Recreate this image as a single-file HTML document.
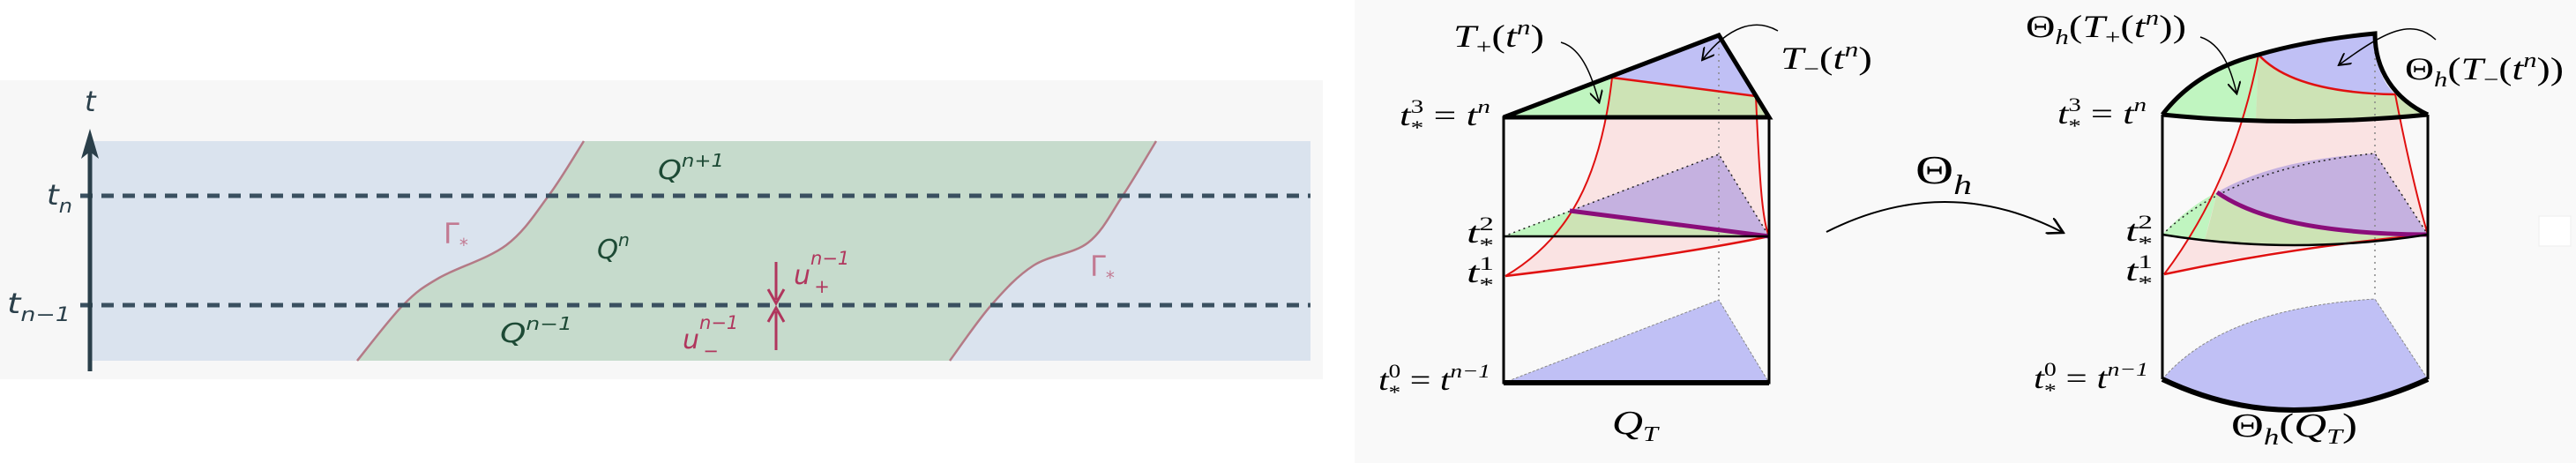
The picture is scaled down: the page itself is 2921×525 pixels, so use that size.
<!DOCTYPE html>
<html><head><meta charset="utf-8"><style>
html,body{margin:0;padding:0;background:#fff}
svg{display:block}
.m{font-family:"Liberation Serif",serif;font-style:italic}
.s{font-family:"DejaVu Sans",sans-serif;font-style:italic}
</style></head><body>
<svg width="2921" height="525" viewBox="0 0 2921 525" xmlns="http://www.w3.org/2000/svg">
<defs>
<marker id="ah" markerWidth="10" markerHeight="10" refX="8" refY="5" orient="auto"><path d="M0,0 L9,5 L0,10" fill="none" stroke="#000" stroke-width="1.3"/></marker>
</defs>
<!-- LEFT PANEL -->
<g>
<rect x="0" y="91" width="1500" height="339" fill="#f7f7f7"/>
<rect x="102" y="160" width="1384" height="249" fill="#dae3ee"/>
<path id="region" d="" fill="#c6dbcc"/>
<path id="gl" d="" fill="none" stroke="#b47a86" stroke-width="2.5"/>
<path id="gr" d="" fill="none" stroke="#b47a86" stroke-width="2.5"/>
<line x1="91" y1="222" x2="1486" y2="222" stroke="#3a5060" stroke-width="5" stroke-dasharray="14,10"/>
<line x1="91" y1="346" x2="1486" y2="346" stroke="#3a5060" stroke-width="5" stroke-dasharray="14,10"/>
<line x1="102" y1="421" x2="102" y2="155" stroke="#2a3f4a" stroke-width="5"/>
<path d="M92,180 L102,146 L112,180 L102,172 Z" fill="#2a3f4a"/>
<text x="96" y="126" class="s" font-size="32" fill="#2a3f4a">t</text>
<text x="53" y="232" class="s" font-size="32" fill="#2a3f4a" textLength="29" lengthAdjust="spacingAndGlyphs">t<tspan font-size="22" dy="9">n</tspan></text>
<text x="8" y="355" class="s" font-size="32" fill="#2a3f4a" textLength="72" lengthAdjust="spacingAndGlyphs">t<tspan font-size="22" dy="9">n−1</tspan></text>
<text x="746" y="203" class="s" font-size="30" fill="#1d4a35" textLength="75" lengthAdjust="spacingAndGlyphs">Q<tspan font-size="20" dy="-14">n+1</tspan></text>
<text x="677" y="293" class="s" font-size="30" fill="#1d4a35" textLength="37" lengthAdjust="spacingAndGlyphs">Q<tspan font-size="20" dy="-14">n</tspan></text>
<text x="567" y="388" class="s" font-size="30" fill="#1d4a35" textLength="82" lengthAdjust="spacingAndGlyphs">Q<tspan font-size="20" dy="-14">n−1</tspan></text>
<text x="503" y="276" font-family="DejaVu Sans" font-size="32" fill="#c27a92">Γ<tspan font-size="20" dy="9">*</tspan></text>
<text x="1236" y="313" font-family="DejaVu Sans" font-size="32" fill="#c27a92">Γ<tspan font-size="20" dy="9">*</tspan></text>
<line x1="880" y1="297" x2="880" y2="340" stroke="#b0365d" stroke-width="3"/>
<path d="M871,328 L880,344 L889,328" fill="none" stroke="#b0365d" stroke-width="3"/>
<line x1="880" y1="397" x2="880" y2="353" stroke="#b0365d" stroke-width="3"/>
<path d="M871,365 L880,349 L889,365" fill="none" stroke="#b0365d" stroke-width="3"/>
<text x="900" y="322" class="s" font-size="30" fill="#b0365d">u<tspan font-size="21" dy="-22">n−1</tspan><tspan font-size="21" dx="-40" dy="32">+</tspan></text>
<text x="774" y="395" class="s" font-size="30" fill="#b0365d">u<tspan font-size="21" dy="-22">n−1</tspan><tspan font-size="21" dx="-40" dy="32">−</tspan></text>
</g>
<!-- RIGHT PANEL -->
<rect x="1536" y="0" width="1385" height="525" fill="#f9f9f9"/>
<g>
<path d="M1828,88 L1991,109 C1995,200 1998,250 2006,268 Q1900,290 1707,313 C1780,270 1815,200 1828,88 Z" fill="#fae3e3"/>
<path d="M1705,133 L1949,40 L2006,133 Z" fill="#c0f5c0"/>
<path d="M1828,88 L1991,109 L2006,133 L1822,133 C1825,115 1826,100 1828,88 Z" fill="#cde3b5"/>
<path d="M1828,88 L1949,40 L1991,109 Z" fill="#c0c0f5"/>
<path d="M1705,268 L1780,239 L2006,268 Z" fill="#c0f5c0"/>
<path d="M1780,239 L2006,268 L1757,268 C1768,258 1775,250 1780,239 Z" fill="#cde3b5"/>
<path d="M1780,239 L1949,175 L2006,268 Z" fill="#c5b1e0"/>
<path d="M1705,268 L1949,175 L2006,268" fill="none" stroke="#222" stroke-width="1.5" stroke-dasharray="2,4"/>
<path d="M1705,434 L1949,340 L2006,434 Z" fill="#c0c0f5" stroke="#888" stroke-width="1" stroke-dasharray="3,2"/>
<line x1="1949" y1="40" x2="1949" y2="340" stroke="#888" stroke-width="1.5" stroke-dasharray="2,5"/>
<path d="M1828,88 C1815,200 1780,270 1707,313" fill="none" stroke="#e01010" stroke-width="2"/>
<path d="M1991,109 C1995,200 1998,250 2006,268" fill="none" stroke="#e01010" stroke-width="2"/>
<path d="M1707,313 Q1900,290 2006,268" fill="none" stroke="#e01010" stroke-width="2.5"/>
<line x1="1828" y1="88" x2="1991" y2="109" stroke="#e01010" stroke-width="2.5"/>
<line x1="1780" y1="239" x2="2006" y2="268" stroke="#8a0d7a" stroke-width="5"/>
<line x1="1705" y1="268" x2="2006" y2="268" stroke="#000" stroke-width="2.5"/>
<rect x="1705" y="133" width="301" height="301" fill="none" stroke="#000" stroke-width="3"/>
<path d="M1705,133 L1949,40 L2006,133 Z" fill="none" stroke="#000" stroke-width="5"/>
<line x1="1705" y1="434" x2="2006" y2="434" stroke="#000" stroke-width="6"/>
<path d="M1770,48 C1795,55 1806,90 1813,115" fill="none" stroke="#000" stroke-width="1.5" marker-end="url(#ah)"/>
<path d="M2016,35 C1990,20 1960,30 1931,67" fill="none" stroke="#000" stroke-width="1.5" marker-end="url(#ah)"/>
<text x="1648" y="53" class="m" font-size="36" textLength="103" lengthAdjust="spacingAndGlyphs">T<tspan font-size="24" dy="8" font-style="normal">+</tspan><tspan dy="-8" font-style="normal">(</tspan>t<tspan font-size="24" dy="-14">n</tspan><tspan dy="14" font-style="normal">)</tspan></text>
<text x="2019" y="78" class="m" font-size="36" textLength="104" lengthAdjust="spacingAndGlyphs">T<tspan font-size="24" dy="8" font-style="normal">−</tspan><tspan dy="-8" font-style="normal">(</tspan>t<tspan font-size="24" dy="-14">n</tspan><tspan dy="14" font-style="normal">)</tspan></text>
<text x="1587" y="142" class="m" font-size="34" textLength="103" lengthAdjust="spacingAndGlyphs">t<tspan font-size="22" dy="-14" font-style="normal">3</tspan><tspan font-size="22" dx="-11" dy="24" font-style="normal">*</tspan><tspan font-style="normal" dy="-10"> = </tspan>t<tspan font-size="22" dy="-14">n</tspan></text>
<text x="1663" y="275" class="m" font-size="34" textLength="31" lengthAdjust="spacingAndGlyphs">t<tspan font-size="22" dy="-14" font-style="normal">2</tspan><tspan font-size="22" dx="-11" dy="24" font-style="normal">*</tspan></text>
<text x="1663" y="320" class="m" font-size="34" textLength="31" lengthAdjust="spacingAndGlyphs">t<tspan font-size="22" dy="-14" font-style="normal">1</tspan><tspan font-size="22" dx="-11" dy="24" font-style="normal">*</tspan></text>
<text x="1563" y="442" class="m" font-size="34" textLength="127" lengthAdjust="spacingAndGlyphs">t<tspan font-size="22" dy="-14" font-style="normal">0</tspan><tspan font-size="22" dx="-11" dy="24" font-style="normal">*</tspan><tspan font-style="normal" dy="-10"> = </tspan>t<tspan font-size="22" dy="-14">n−1</tspan></text>
<text x="1828" y="492" class="m" font-size="38" textLength="52" lengthAdjust="spacingAndGlyphs">Q<tspan font-size="24" dy="8">T</tspan></text>
</g>
<g>
<path d="M2071,263 Q2206,195 2338,263" fill="none" stroke="#000" stroke-width="2" marker-end="url(#ah)"/>
<text x="2172" y="208" class="m" font-size="46" textLength="64" lengthAdjust="spacingAndGlyphs"><tspan font-style="normal">Θ</tspan><tspan font-size="32" dy="12">h</tspan></text>
</g>
<g>
<path d="M2561,62 Q2600,105 2716,107 C2730,180 2745,240 2753,266 Q2600,275 2454,311 C2500,250 2540,170 2561,62 Z" fill="#fae3e3"/>
<path d="M2452,130 Q2490,80 2561,62 L2558,135 Q2500,134 2452,130 Z" fill="#c0f5c0"/>
<path d="M2561,62 Q2600,105 2716,107 C2730,118 2745,125 2753,130 Q2650,140 2558,135 Z" fill="#cde3b5"/>
<path d="M2561,62 Q2620,45 2693,38 C2693,70 2700,92 2716,107 Q2600,105 2561,62 Z" fill="#c0c0f5"/>
<path d="M2452,266 Q2480,235 2514,218 L2500,272 Q2470,270 2452,266 Z" fill="#c0f5c0"/>
<path d="M2514,218 Q2580,265 2753,266 Q2600,285 2500,272 C2505,255 2510,235 2514,218 Z" fill="#cde3b5"/>
<path d="M2514,218 Q2580,180 2693,174 L2753,266 Q2580,265 2514,218 Z" fill="#c5b1e0"/>
<path d="M2452,266 Q2530,190 2693,174 L2753,266" fill="none" stroke="#222" stroke-width="1.5" stroke-dasharray="2,4"/>
<path d="M2452,430 Q2520,350 2693,339 L2753,430 Q2600,500 2452,430 Z" fill="#c0c0f5" stroke="#888" stroke-width="1" stroke-dasharray="3,2"/>
<line x1="2693" y1="38" x2="2693" y2="339" stroke="#888" stroke-width="1.5" stroke-dasharray="2,5"/>
<path d="M2561,62 C2540,170 2500,250 2454,311" fill="none" stroke="#e01010" stroke-width="2"/>
<path d="M2716,107 C2730,180 2745,240 2753,266" fill="none" stroke="#e01010" stroke-width="2"/>
<path d="M2454,311 Q2600,280 2753,266" fill="none" stroke="#e01010" stroke-width="2.5"/>
<path d="M2561,62 Q2600,105 2716,107" fill="none" stroke="#e01010" stroke-width="2.5"/>
<path d="M2514,218 Q2580,265 2753,266" fill="none" stroke="#8a0d7a" stroke-width="5"/>
<path d="M2452,266 Q2600,290 2753,266" fill="none" stroke="#000" stroke-width="2.5"/>
<line x1="2452" y1="130" x2="2452" y2="430" stroke="#000" stroke-width="3"/>
<line x1="2753" y1="130" x2="2753" y2="430" stroke="#000" stroke-width="3"/>
<path d="M2452,130 Q2600,145 2753,130" fill="none" stroke="#000" stroke-width="5"/>
<path d="M2452,130 Q2490,80 2561,62 Q2620,45 2693,38 C2693,80 2715,112 2753,130" fill="none" stroke="#000" stroke-width="5"/>
<path d="M2452,430 Q2600,500 2753,430" fill="none" stroke="#000" stroke-width="6"/>
<path d="M2495,42 C2520,50 2530,80 2536,105" fill="none" stroke="#000" stroke-width="1.5" marker-end="url(#ah)"/>
<path d="M2762,45 C2735,20 2705,35 2653,73" fill="none" stroke="#000" stroke-width="1.5" marker-end="url(#ah)"/>
<text x="2297" y="42" class="m" font-size="36" textLength="182" lengthAdjust="spacingAndGlyphs"><tspan font-style="normal">Θ</tspan><tspan font-size="24" dy="8">h</tspan><tspan dy="-8" font-style="normal">(</tspan>T<tspan font-size="24" dy="8" font-style="normal">+</tspan><tspan dy="-8" font-style="normal">(</tspan>t<tspan font-size="24" dy="-14">n</tspan><tspan dy="14" font-style="normal">))</tspan></text>
<text x="2727" y="90" class="m" font-size="36" textLength="180" lengthAdjust="spacingAndGlyphs"><tspan font-style="normal">Θ</tspan><tspan font-size="24" dy="8">h</tspan><tspan dy="-8" font-style="normal">(</tspan>T<tspan font-size="24" dy="8" font-style="normal">−</tspan><tspan dy="-8" font-style="normal">(</tspan>t<tspan font-size="24" dy="-14">n</tspan><tspan dy="14" font-style="normal">))</tspan></text>
<text x="2333" y="140" class="m" font-size="34" textLength="101" lengthAdjust="spacingAndGlyphs">t<tspan font-size="22" dy="-14" font-style="normal">3</tspan><tspan font-size="22" dx="-11" dy="24" font-style="normal">*</tspan><tspan font-style="normal" dy="-10"> = </tspan>t<tspan font-size="22" dy="-14">n</tspan></text>
<text x="2410" y="273" class="m" font-size="34" textLength="31" lengthAdjust="spacingAndGlyphs">t<tspan font-size="22" dy="-14" font-style="normal">2</tspan><tspan font-size="22" dx="-11" dy="24" font-style="normal">*</tspan></text>
<text x="2410" y="318" class="m" font-size="34" textLength="31" lengthAdjust="spacingAndGlyphs">t<tspan font-size="22" dy="-14" font-style="normal">1</tspan><tspan font-size="22" dx="-11" dy="24" font-style="normal">*</tspan></text>
<text x="2306" y="440" class="m" font-size="34" textLength="130" lengthAdjust="spacingAndGlyphs">t<tspan font-size="22" dy="-14" font-style="normal">0</tspan><tspan font-size="22" dx="-11" dy="24" font-style="normal">*</tspan><tspan font-style="normal" dy="-10"> = </tspan>t<tspan font-size="22" dy="-14">n−1</tspan></text>
<text x="2530" y="495" class="m" font-size="38" textLength="143" lengthAdjust="spacingAndGlyphs"><tspan font-style="normal">Θ</tspan><tspan font-size="26" dy="9">h</tspan><tspan dy="-9" font-style="normal">(</tspan>Q<tspan font-size="24" dy="8">T</tspan><tspan dy="-8" font-style="normal">)</tspan></text>
</g>
<rect x="2879" y="245" width="36" height="34" fill="#fff" stroke="#eee" stroke-width="1"/>
</svg>
<script>
const leftX=[405,457,498,574,622,662];
const leftY=[409,346,315,278,222,160];
const rightX=[1077,1124,1172,1234,1273,1311];
const rightY=[409,346,301,275,222,160];
function cr(xs,ys){
  let d='M'+xs[0]+','+ys[0];
  for(let i=0;i<xs.length-1;i++){
    const x0=xs[Math.max(i-1,0)],y0=ys[Math.max(i-1,0)];
    const x3=xs[Math.min(i+2,xs.length-1)],y3=ys[Math.min(i+2,ys.length-1)];
    const c1x=xs[i]+(xs[i+1]-x0)/6,c1y=ys[i]+(ys[i+1]-y0)/6;
    const c2x=xs[i+1]-(x3-xs[i])/6,c2y=ys[i+1]-(y3-ys[i])/6;
    d+=' C'+c1x+','+c1y+' '+c2x+','+c2y+' '+xs[i+1]+','+ys[i+1];
  }
  return d;
}
const dl=cr(leftX,leftY);
const dr=cr(rightX.slice().reverse(),rightY.slice().reverse());
document.getElementById('gl').setAttribute('d',dl);
document.getElementById('gr').setAttribute('d',cr(rightX,rightY));
document.getElementById('region').setAttribute('d',dl+' L'+rightX[rightX.length-1]+','+rightY[rightY.length-1]+dr.replace(/^M[^C]*/,' ')+' Z');
</script>
</body></html>
